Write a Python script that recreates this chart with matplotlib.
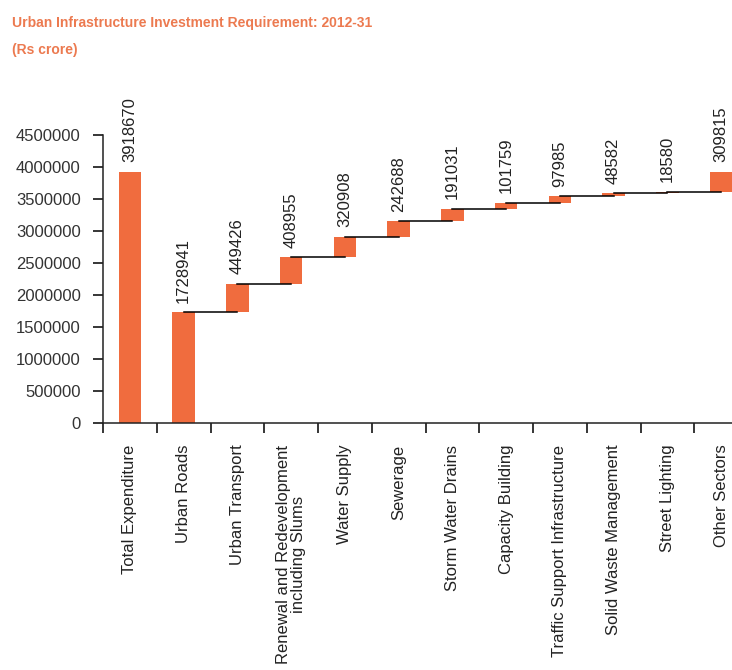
import numpy as np
import matplotlib
matplotlib.use("Agg")
import matplotlib.pyplot as plt

plt.rcParams['font.family'] = ['Liberation Sans', 'DejaVu Sans']

categories = ['Total Expenditure', 'Urban Roads', 'Urban Transport',
              'Renewal and Redevelopment\nincluding Slums', 'Water Supply', 'Sewerage',
              'Storm Water Drains', 'Capacity Building', 'Traffic Support Infrastructure',
              'Solid Waste Management', 'Street Lighting', 'Other Sectors']
total = 3918670
sectors = [1728941, 449426, 408955, 320908, 242688, 191031,
           101759, 97985, 48582, 18580, 309815]
yticks = [0, 500000, 1000000, 1500000, 2000000, 2500000,
          3000000, 3500000, 4000000, 4500000]

BAR = '#F06C3E'
TITLE = '#EC7A50'

tops = np.cumsum(sectors)
bottoms = tops - np.array(sectors)
heights = [total] + sectors
bases = [0] + list(bottoms)

fig = plt.figure(figsize=(7.32, 6.7), dpi=100)
ax = fig.add_axes([103 / 732, 247 / 670, 645 / 732, 288 / 670])

x = np.arange(len(categories))
ax.bar(x, heights, bottom=bases, width=0.42, color=BAR, zorder=2)

# connectors between the steps
for i in range(1, len(sectors)):
    ax.plot([i, i + 1], [tops[i - 1], tops[i - 1]], color='black', lw=1.1, zorder=3)

for xi, b, h in zip(x, bases, heights):
    ax.annotate(str(h), (xi, b + h), xytext=(0, 7), textcoords='offset points',
                rotation=90, ha='center', va='bottom', fontsize=12, color='#222222',
                annotation_clip=False)

ax.set_xlim(-0.5, len(categories) - 0.5)
ax.set_ylim(0, 4500000)
ax.set_yticks(yticks)
ax.set_yticklabels([str(v) for v in yticks], fontsize=12, color='#333333')
ax.set_xticks(x)
ax.set_xticklabels(categories, rotation=90, fontsize=12, color='#222222', va='top',
                   linespacing=1.0)
ax.set_xticks(np.arange(len(categories)) - 0.5, minor=True)
ax.tick_params(axis='x', which='major', length=0, pad=15.5)
ax.tick_params(axis='x', which='minor', length=7, width=1.1, direction='out')
ax.tick_params(axis='y', length=7, width=1.1, pad=9)

for s in ['top', 'right']:
    ax.spines[s].set_visible(False)
for s in ['left', 'bottom']:
    ax.spines[s].set_linewidth(1.1)
    ax.spines[s].set_color('#222222')

fig.text(12 / 732, 1 - 16 / 670, 'Urban Infrastructure Investment Requirement: 2012-31',
         fontsize=10, fontweight='bold', color=TITLE, va='top', ha='left')
fig.text(12 / 732, 1 - 43 / 670, '(Rs crore)',
         fontsize=10, fontweight='bold', color=TITLE, va='top', ha='left')

fig.savefig('out.png', dpi=100)
